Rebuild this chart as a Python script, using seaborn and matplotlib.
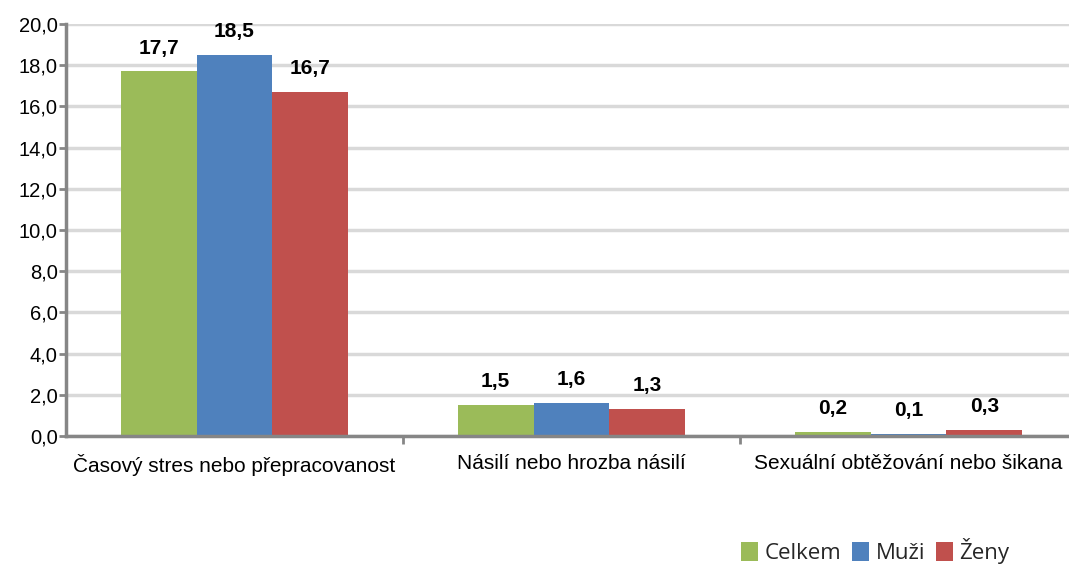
import matplotlib
matplotlib.use("Agg")
import matplotlib.pyplot as plt
import seaborn as sns
import pandas as pd
from matplotlib.ticker import FixedLocator, FuncFormatter
from matplotlib.patches import Patch

categories = ["Časový stres nebo přepracovanost", "Násilí nebo hrozba násilí", "Sexuální obtěžování nebo šikana"]
series = ["Celkem", "Muži", "Ženy"]
celkem = [17.7, 1.5, 0.2]
muzi = [18.5, 1.6, 0.1]
zeny = [16.7, 1.3, 0.3]
colors = ["#9BBB59", "#4F81BD", "#C0504D"]

rows = []
for s, vals in zip(series, [celkem, muzi, zeny]):
    for c, v in zip(categories, vals):
        rows.append({"cat": c, "ser": s, "val": v})
df = pd.DataFrame(rows)

sns.set_theme(style="white")
plt.rcParams['font.family'] = ['Liberation Sans', 'DejaVu Sans']

fig = plt.figure(figsize=(10.69, 5.67), dpi=100)
ax = fig.add_axes([0.0617, 0.231, 0.9457, 0.7266])

sns.barplot(data=df, x="cat", y="val", hue="ser", order=categories, hue_order=series,
            palette=colors, width=0.675, gap=0, ax=ax, legend=False, saturation=1,
            edgecolor="none", linewidth=0)

ax.set_xlim(-0.5, 2.5)
ax.set_ylim(0, 20)
ax.set_yticks([0, 2, 4, 6, 8, 10, 12, 14, 16, 18, 20])
ax.yaxis.set_major_formatter(FuncFormatter(lambda v, p: f"{v:.1f}".replace(".", ",")))
ax.yaxis.grid(True, color="#D9D9D9", linewidth=2.5)
ax.set_axisbelow(True)
ax.set_xlabel("")
ax.set_ylabel("")

for sp in ["top", "right"]:
    ax.spines[sp].set_visible(False)
for sp in ["left", "bottom"]:
    ax.spines[sp].set_color("#868686")
    ax.spines[sp].set_linewidth(2.5)

ax.tick_params(axis="y", which="major", length=5, width=2, color="#868686", labelsize=14.5,
               labelcolor="black", pad=1, left=True)
ax.tick_params(axis="x", which="major", length=0, labelsize=15, labelcolor="black", pad=13)
ax.xaxis.set_minor_locator(FixedLocator([0.5, 1.5]))
ax.tick_params(axis="x", which="minor", length=6, width=2, color="#868686", bottom=True)

for cont, vals in zip(ax.containers, [celkem, muzi, zeny]):
    labels = [f"{v:.1f}".replace(".", ",") for v in vals]
    ax.bar_label(cont, labels=labels, padding=10, fontsize=15, fontweight="bold", color="black")

handles = [Patch(facecolor=c, edgecolor="none") for c in colors]
fig.legend(handles, series, loc="lower right", bbox_to_anchor=(0.963, -0.03), ncol=3,
           frameon=False, prop={"family": "Open Sans", "size": 16}, handlelength=0.75,
           handleheight=0.95, handletextpad=0.3, columnspacing=0.5)

fig.savefig("out.png", dpi=100)
